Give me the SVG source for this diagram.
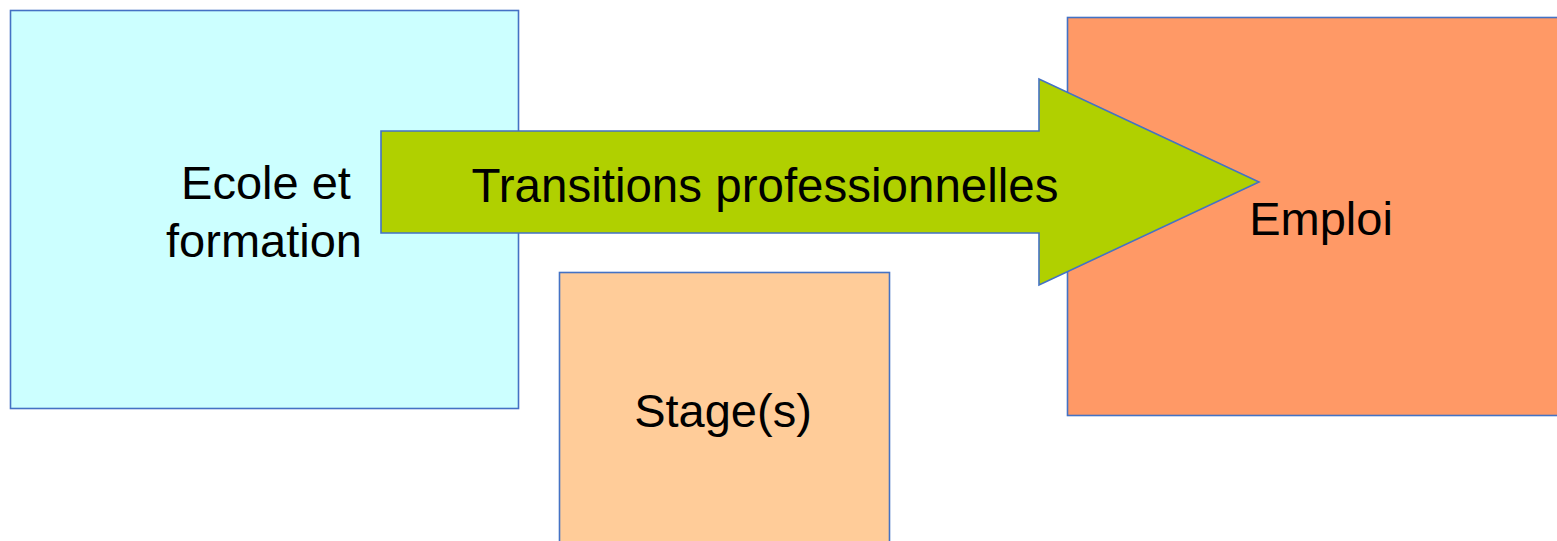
<svg xmlns="http://www.w3.org/2000/svg" width="1557" height="541" viewBox="0 0 1557 541">
<style>
.box{stroke:#4472C4;stroke-width:1.6}
.lbl{font-family:"Liberation Sans",Arial,sans-serif;font-size:47px;fill:#000;text-anchor:middle}
.big{font-size:47.5px}
</style>
<rect width="1557" height="541" fill="#FFFFFF"/>
<g id="ecole">
<rect class="box" x="10.5" y="10.5" width="508" height="398" fill="#CCFFFF"/>
<text class="lbl" x="266" y="199">Ecole et</text>
<text class="lbl" x="264" y="257">formation</text>
</g>
<g id="emploi">
<rect class="box" x="1067.5" y="17.5" width="492" height="398" fill="#FF9966"/>
<text class="lbl" x="1321" y="235">Emploi</text>
</g>
<g id="stage">
<rect class="box" x="559.5" y="272.5" width="330" height="280" fill="#FFCC99"/>
<text class="lbl" x="723" y="427">Stage(s)</text>
</g>
<g id="connectors">
<g id="transitions">
<path d="M381,131 L1039,131 L1039,79 L1259,182 L1039,285 L1039,233 L381,233 Z" fill="#B0D000" stroke="#4472C4" stroke-width="1.6" stroke-linejoin="miter"/>
<text class="lbl big" x="765" y="202">Transitions professionnelles</text>
</g>
</g>
</svg>
